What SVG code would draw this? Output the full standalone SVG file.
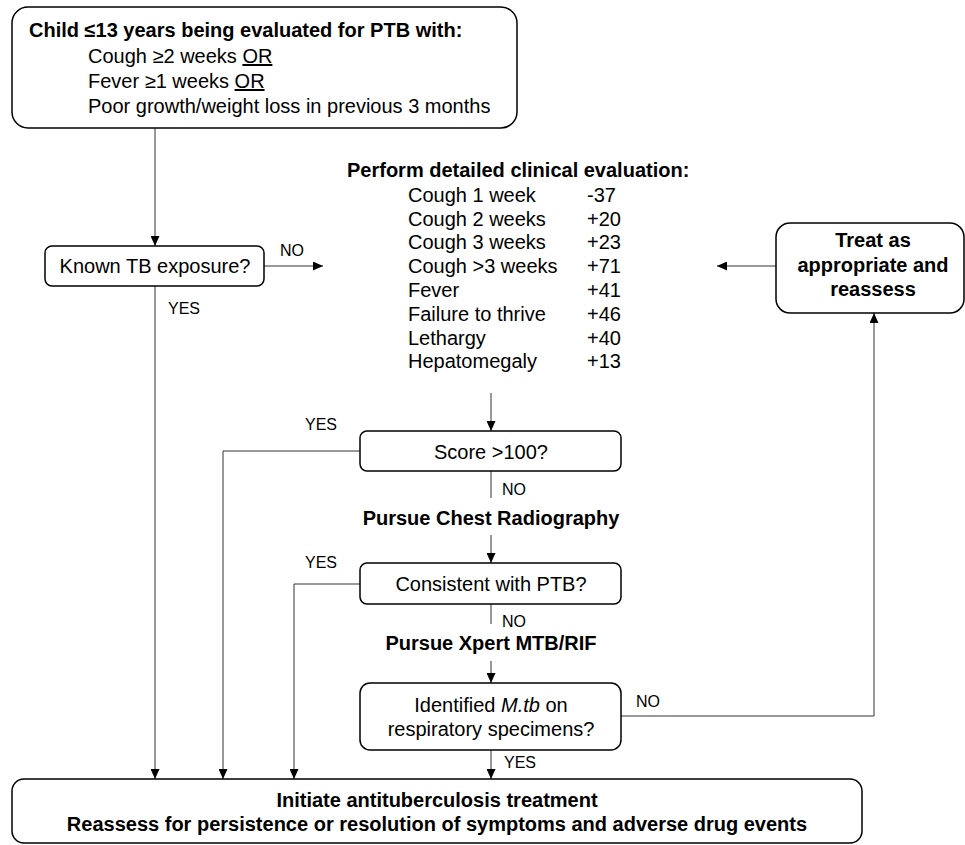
<svg xmlns="http://www.w3.org/2000/svg" width="965" height="845" viewBox="0 0 965 845">
<style>
.box{fill:#fff;stroke:#000;stroke-width:1.5}
.t{font-family:"Liberation Sans",Arial,sans-serif;font-size:20px;fill:#000}
.b{font-weight:bold}
.s{font-family:"Liberation Sans",Arial,sans-serif;font-size:16px;fill:#000}
.c{fill:none;stroke:#333;stroke-width:1}
.m{text-anchor:middle}
</style>
<defs>
<marker id="ah" viewBox="0 0 10 10" refX="10" refY="5" markerWidth="10" markerHeight="9" markerUnits="userSpaceOnUse" orient="auto" preserveAspectRatio="none">
<path d="M0,0 L10,5 L0,10 z" fill="#000"/>
</marker>
</defs>
<rect width="965" height="845" fill="#fff"/>
<g id="connectors">
<path class="c" d="M155,128 V246" marker-end="url(#ah)"/>
<path class="c" d="M264,266 H323" marker-end="url(#ah)"/>
<path class="c" d="M155,286 V779" marker-end="url(#ah)"/>
<path class="c" d="M776,266 H717" marker-end="url(#ah)"/>
<path class="c" d="M491,393 V431" marker-end="url(#ah)"/>
<path class="c" d="M360,451 H223 V779" marker-end="url(#ah)"/>
<path class="c" d="M491,471 V498"/>
<path class="c" d="M491,535 V563" marker-end="url(#ah)"/>
<path class="c" d="M360,584 H294 V779" marker-end="url(#ah)"/>
<path class="c" d="M491,604 V624"/>
<path class="c" d="M491,661 V683" marker-end="url(#ah)"/>
<path class="c" d="M621,716 H874 V313" marker-end="url(#ah)"/>
<path class="c" d="M491,750 V779" marker-end="url(#ah)"/>
<text class="s" x="280" y="256">NO</text>
<text class="s" x="168" y="314">YES</text>
<text class="s" x="305" y="430">YES</text>
<text class="s" x="502" y="495">NO</text>
<text class="s" x="305" y="568">YES</text>
<text class="s" x="502" y="627">NO</text>
<text class="s" x="636" y="707">NO</text>
<text class="s" x="504" y="768">YES</text>
</g>
<g id="start">
<rect class="box" x="12" y="7" width="505" height="121" rx="16"/>
<text class="t b" x="29" y="37" font-size="22">Child ≤13 years being evaluated for PTB with:</text>
<text class="t" x="88" y="63">Cough ≥2 weeks <tspan text-decoration="underline">OR</tspan></text>
<text class="t" x="88" y="88">Fever ≥1 weeks <tspan text-decoration="underline">OR</tspan></text>
<text class="t" x="88" y="113">Poor growth/weight loss in previous 3 months</text>
</g>
<g id="exposure">
<rect class="box" x="45" y="246" width="219" height="40" rx="7"/>
<text class="t m" x="155" y="273">Known TB exposure?</text>
</g>
<g id="evaluation">
<text class="t b" x="347" y="177">Perform detailed clinical evaluation:</text>
<text class="t" x="408" y="202">Cough 1 week</text><text class="t" x="587" y="202">-37</text>
<text class="t" x="408" y="226">Cough 2 weeks</text><text class="t" x="587" y="226">+20</text>
<text class="t" x="408" y="249">Cough 3 weeks</text><text class="t" x="587" y="249">+23</text>
<text class="t" x="408" y="273">Cough &gt;3 weeks</text><text class="t" x="587" y="273">+71</text>
<text class="t" x="408" y="297">Fever</text><text class="t" x="587" y="297">+41</text>
<text class="t" x="408" y="321">Failure to thrive</text><text class="t" x="587" y="321">+46</text>
<text class="t" x="408" y="345">Lethargy</text><text class="t" x="587" y="345">+40</text>
<text class="t" x="408" y="368">Hepatomegaly</text><text class="t" x="587" y="368">+13</text>
</g>
<g id="treat">
<rect class="box" x="776" y="223" width="188" height="90" rx="14"/>
<text class="t b m" x="873" y="247">Treat as</text>
<text class="t b m" x="873" y="272">appropriate and</text>
<text class="t b m" x="873" y="296">reassess</text>
</g>
<g id="score">
<rect class="box" x="360" y="431" width="261" height="40" rx="7"/>
<text class="t m" x="491" y="459">Score &gt;100?</text>
</g>
<g id="cxr">
<text class="t b m" x="491" y="525">Pursue Chest Radiography</text>
</g>
<g id="consistent">
<rect class="box" x="360" y="563" width="261" height="41" rx="7"/>
<text class="t m" x="491" y="591">Consistent with PTB?</text>
</g>
<g id="xpert">
<text class="t b m" x="491" y="650">Pursue Xpert MTB/RIF</text>
</g>
<g id="identified">
<rect class="box" x="360" y="683" width="261" height="67" rx="10"/>
<text class="t m" x="491" y="712">Identified <tspan font-style="italic">M.tb</tspan> on</text>
<text class="t m" x="491" y="736">respiratory specimens?</text>
</g>
<g id="treatment">
<rect class="box" x="12" y="779" width="850" height="64" rx="12"/>
<text class="t b m" x="437" y="807">Initiate antituberculosis treatment</text>
<text class="t b m" x="437" y="831">Reassess for persistence or resolution of symptoms and adverse drug events</text>
</g>
</svg>
